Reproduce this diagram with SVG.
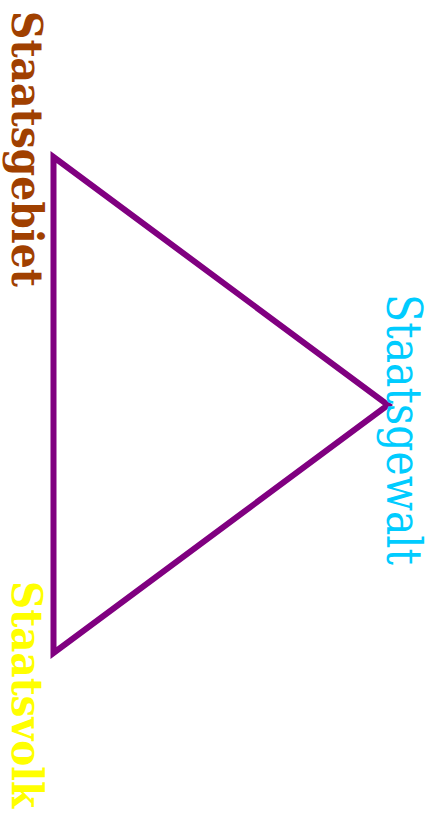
<svg xmlns="http://www.w3.org/2000/svg" width="434" height="816" viewBox="0 0 434 816">
<style>
.lbl{font-family:"DejaVu Serif Condensed","DejaVu Serif",serif;font-stretch:condensed}
.b{font-weight:bold;font-size:43px}
.n{font-size:48px}
</style>
<rect width="434" height="816" fill="#ffffff"/>
<g id="connectors">
<polygon points="53.5,157 388,405 53.5,653" fill="none" stroke="#800080" stroke-width="6"/>
</g>
<g id="staatsgebiet"><text class="lbl b" transform="translate(12,11) rotate(90)" fill="#a04000" textLength="276" lengthAdjust="spacingAndGlyphs">Staatsgebiet</text></g>
<g id="staatsgewalt"><text class="lbl n" transform="translate(387,294) rotate(90)" fill="#00ccff" textLength="271" lengthAdjust="spacingAndGlyphs">Staatsgewalt</text></g>
<g id="staatsvolk"><text class="lbl b" transform="translate(12,581) rotate(90)" fill="#ffff00" textLength="227" lengthAdjust="spacingAndGlyphs">Staatsvolk</text></g>
</svg>
